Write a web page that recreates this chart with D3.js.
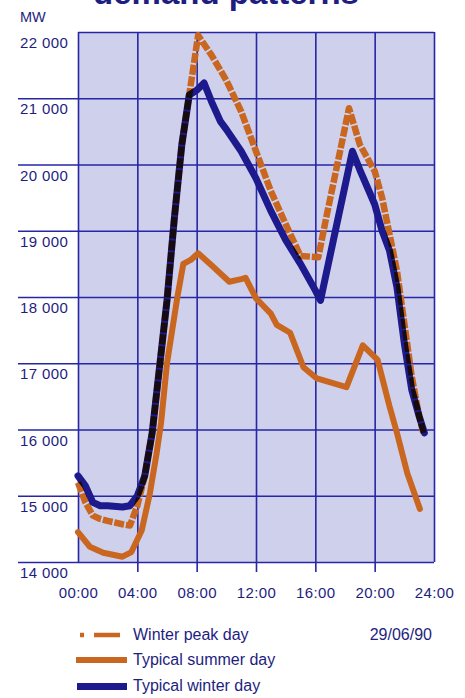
<!DOCTYPE html>
<html>
<head>
<meta charset="utf-8">
<script src="https://cdn.jsdelivr.net/npm/d3@7"></script>
<style>
  html, body { margin: 0; padding: 0; background: #ffffff; }
  svg { display: block; }
  text { font-family: "Liberation Sans", Arial, sans-serif; }
</style>
</head>
<body>
<script>
// ---------------- data ----------------
const title = "demand patterns";
const unitLabel = "MW";
const dateLabel = "29/06/90";
const xTicks = [0, 4, 8, 12, 16, 20, 24];
const xTickLabels = ["00:00", "04:00", "08:00", "12:00", "16:00", "20:00", "24:00"];
const yTicks = [14000, 15000, 16000, 17000, 18000, 19000, 20000, 21000, 22000];
const seriesNames = ["Winter peak day", "Typical summer day", "Typical winter day"];

// vertices: hour of day, demand in MW
const winterPeakHours = [0, 0.5, 1, 1.5, 2, 3, 3.5, 4, 4.5, 5, 5.5, 6, 6.5, 7, 7.5, 8.1, 9, 10, 11, 12, 13, 14, 15, 16.2, 16.8, 17.5, 18.27, 19, 20, 20.5, 21, 21.5, 22, 22.5, 23, 23.3];
const winterPeakMW    = [15200, 14900, 14700, 14650, 14620, 14570, 14550, 14850, 15300, 15950, 16950, 17950, 19200, 20300, 21050, 21950, 21650, 21270, 20800, 20200, 19600, 19100, 18620, 18600, 19270, 20020, 20850, 20300, 19900, 19500, 18950, 18400, 17600, 16800, 16200, 15930];

const summerHours = [0, 0.8, 1.7, 3.0, 3.6, 4.3, 4.85, 5.3, 5.6, 6.0, 6.7, 7.1, 7.6, 8.1, 9.0, 10.2, 11.0, 11.3, 12.0, 13.0, 13.4, 14.3, 15.2, 16.1, 18.1, 19.2, 20.2, 21.0, 21.5, 22.2, 23.05];
const summerMW    = [14450, 14230, 14140, 14080, 14150, 14480, 15040, 15640, 16100, 17000, 18000, 18500, 18560, 18660, 18480, 18230, 18270, 18290, 17980, 17750, 17580, 17460, 16940, 16770, 16640, 17270, 17050, 16350, 15950, 15340, 14800];

const winterDayHours = [0, 0.5, 1, 1.5, 2, 3, 3.5, 4, 4.5, 5, 5.5, 6, 6.5, 7, 7.5, 8, 8.5, 9, 9.6, 10, 11, 12, 13, 14, 15, 16, 16.35, 18.5, 19, 20, 20.5, 21, 21.5, 22, 22.5, 23, 23.35];
const winterDayMW    = [15300, 15150, 14900, 14850, 14850, 14830, 14850, 15000, 15300, 15950, 16950, 17950, 19200, 20300, 21050, 21120, 21230, 20950, 20650, 20530, 20200, 19790, 19300, 18860, 18500, 18100, 17950, 20200, 19920, 19400, 19000, 18700, 18150, 17300, 16600, 16200, 15950];

// ---------------- styles ----------------
const W = 465, H = 698;
const gridColor = "#2626a6";
const textColor = "#1e1e80";
const plotBg = "#cfd0eb";
const orange = "#c9661f";
const navy = "#1c1a8c";

const svg = d3.select("body").append("svg").attr("width", W).attr("height", H);

const x = d3.scaleLinear().domain([0, 24]).range([78, 434]);
const y = d3.scaleLinear().domain([14000, 22000]).range([562, 32]);

// title (cut off at top, as in the reference)
svg.append("text").attr("x", 226).attr("y", 4)
  .attr("text-anchor", "middle").attr("font-weight", "bold").attr("font-size", 33)
  .attr("fill", textColor).text(title);

svg.append("text").attr("x", 20).attr("y", 22)
  .attr("font-size", 14.5).attr("fill", textColor).text(unitLabel);

// plot background
svg.append("rect").attr("x", x(0)).attr("y", y(22000))
  .attr("width", x(24) - x(0)).attr("height", y(14000) - y(22000))
  .attr("fill", plotBg);

// y axis (gridlines + labels)
const fmt = d => d3.format(",")(d).replace(",", " ");
const yAxis = d3.axisRight(y).tickValues(yTicks).tickSize(x(24) - 18).tickFormat(fmt);
const gy = svg.append("g").attr("transform", "translate(18,0)").call(yAxis);
gy.select(".domain").remove();
gy.selectAll(".tick line").attr("stroke", gridColor).attr("stroke-width", 1.6);
gy.selectAll(".tick text")
  .attr("x", 2).attr("dy", 0).attr("y", 15.5)
  .attr("text-anchor", "start").attr("fill", textColor)
  .attr("font-size", 15).attr("letter-spacing", 0.4)
  .style("font-family", "'Liberation Sans', Arial, sans-serif");
gy.selectAll(".tick").filter(d => d === 22000).select("line")
  .attr("x1", x(0) - 18);

// x axis (gridlines + labels)
const xAxis = d3.axisBottom(x).tickValues(xTicks).tickSize(y(14000) - y(22000) + 10)
  .tickFormat((d, i) => xTickLabels[i]);
const gx = svg.append("g").attr("transform", `translate(0,${y(22000)})`).call(xAxis);
gx.select(".domain").remove();
gx.selectAll(".tick line").attr("stroke", gridColor).attr("stroke-width", 1.6);
gx.selectAll(".tick").filter(d => d === 0 || d === 24).select("line")
  .attr("y2", y(14000) - y(22000));
gx.selectAll(".tick text")
  .attr("y", 566).attr("dy", 0).attr("fill", textColor)
  .attr("font-size", 15).attr("letter-spacing", 0.4)
  .style("font-family", "'Liberation Sans', Arial, sans-serif");

// lines
const line = d3.line().x(d => x(d[0])).y(d => y(d[1]));
const zip = (hs, vs) => hs.map((h, i) => [h, vs[i]]);

const lines = svg.append("g").style("isolation", "isolate");
lines.append("path").datum(zip(summerHours, summerMW))
  .attr("d", line).attr("fill", "none").attr("stroke", orange)
  .attr("stroke-width", 6).attr("stroke-linejoin", "round").attr("stroke-linecap", "round");
lines.append("path").datum(zip(winterPeakHours, winterPeakMW))
  .attr("d", line).attr("fill", "none").attr("stroke", orange)
  .attr("stroke-width", 6.5).attr("stroke-linejoin", "round")
  .attr("stroke-dasharray", "10,1.8");
lines.append("path").datum(zip(winterDayHours, winterDayMW))
  .attr("d", line).attr("fill", "none").attr("stroke", navy)
  .attr("stroke-width", 7).attr("stroke-linejoin", "round").attr("stroke-linecap", "round")
  .style("mix-blend-mode", "multiply");

// legend
const legend = svg.append("g");
const rows = [
  { name: seriesNames[0], color: orange, width: 4.5, dash: "4,10,26,100", ly: 635, x1: 80 },
  { name: seriesNames[1], color: orange, width: 6, dash: null, ly: 660, x1: 76 },
  { name: seriesNames[2], color: navy, width: 7, dash: null, ly: 686.5, x1: 77 }
];
rows.forEach(r => {
  legend.append("line").attr("x1", r.x1).attr("x2", 127).attr("y1", r.ly).attr("y2", r.ly)
    .attr("stroke", r.color).attr("stroke-width", r.width)
    .attr("stroke-dasharray", r.dash);
  legend.append("text").attr("x", 133).attr("y", r.ly + 4.5)
    .attr("font-size", 16).attr("fill", textColor).text(r.name);
});
legend.append("text").attr("x", 432).attr("y", 639.5).attr("text-anchor", "end")
  .attr("font-size", 16).attr("fill", textColor).text(dateLabel);
</script>
</body>
</html>
